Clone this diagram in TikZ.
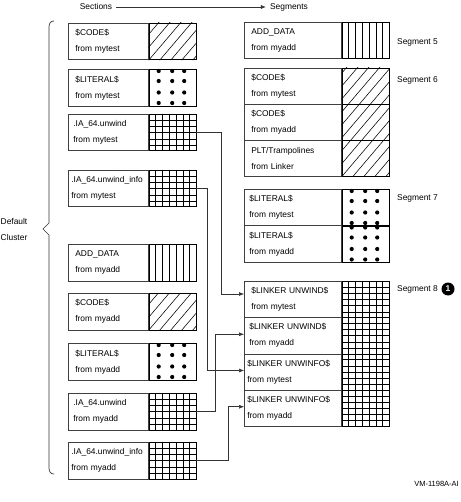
\documentclass[tikz,border=0pt]{standalone}
\usepackage{fontspec}
\setmainfont{Liberation Sans}
\usetikzlibrary{arrows.meta,calc}
\newcommand\PatHatch[2]{%
  \begin{scope}
    \clip (#1.north west) rectangle (#2.south east);
    \begin{scope}[shift={(#1.north west |- #2.south east)}]
      \foreach \i in {-14,...,5}{\draw[patline] (\i*11,0) -- ++(108,-127);}
    \end{scope}
  \end{scope}}
\newcommand\PatDots[1]{%
  \begin{scope}
    \clip (#1.north west) rectangle (#1.south east);
    \foreach \c in {10,23.5,35.5}{\foreach \r in {2,12,23.5,34}{%
      \fill[shift={(#1.north west)}] (\c,\r) circle[radius=2.1pt];}}
  \end{scope}}
\newcommand\PatVert[1]{%
  \foreach \k in {1,...,6}{\draw[patline] ($(#1.north west)!\k/7!(#1.north east)$) -- ($(#1.south west)!\k/7!(#1.south east)$);}}
\newcommand\PatGrid[1]{%
  \PatVert{#1}%
  \foreach \j in {1,...,5}{\draw[patline] ($(#1.north west)!\j/6!(#1.south west)$) -- ($(#1.north east)!\j/6!(#1.south east)$);}}
\begin{document}
\begin{tikzpicture}[x=1pt,y=-1pt,
  lbl/.style={font=\fontsize{8.4}{16}\selectfont},
  tb/.style={draw=black!75, line width=0.7pt, anchor=north west, inner ysep=0pt, align=left, font=\fontsize{8.4}{16}\selectfont},
  pb/.style={draw=black, line width=0.7pt, anchor=north west, minimum width=47pt, inner sep=0pt},
  db/.style={pb, line width=1.2pt},
  patline/.style={black, line width=0.55pt},
  conn/.style={draw=black!80, line width=0.6pt, -{Latex[length=5pt,width=4pt]}},
  segl/.style={lbl, anchor=west, inner sep=0pt},
]
\useasboundingbox (0,0) rectangle (460,502);

% header
\node[lbl, inner xsep=4pt] (sec) at (96,7) {Sections};
\node[lbl, inner xsep=4pt] (seg) at (289,7) {Segments};
\draw[conn] (sec.east) -- (seg.west);

% left column
\node[tb, minimum height=36.5pt, inner xsep=7pt, text width=66pt] (l1) at (68,23) {\$CODE\$\\from mytest};
\node[pb, minimum height=36.5pt] (p1) at (l1.north east) {};
\node[tb, minimum height=37pt, inner xsep=7pt, text width=66pt] (l2) at (68,69) {\$LITERAL\$\\from mytest};
\node[db, minimum height=37pt] (p2) at (l2.north east) {};
\node[tb, minimum height=36.5pt, inner xsep=5pt, text width=70pt] (l3) at (68,114) {.IA\_64.unwind\\from mytest};
\node[pb, minimum height=36.5pt] (p3) at (l3.north east) {};
\node[tb, minimum height=36.5pt, inner xsep=3pt, text width=74pt] (l4) at (68,170) {.IA\_64.unwind\_info\\from mytest};
\node[pb, minimum height=36.5pt] (p4) at (l4.north east) {};
\node[tb, minimum height=36.5pt, inner xsep=7pt, text width=66pt] (l5) at (68,244) {ADD\_DATA\\from myadd};
\node[pb, minimum height=36.5pt] (p5) at (l5.north east) {};
\node[tb, minimum height=36.5pt, inner xsep=7pt, text width=66pt] (l6) at (68,293) {\$CODE\$\\from myadd};
\node[pb, minimum height=36.5pt] (p6) at (l6.north east) {};
\node[tb, minimum height=37pt, inner xsep=7pt, text width=66pt] (l7) at (68,343) {\$LITERAL\$\\from myadd};
\node[db, minimum height=37pt] (p7) at (l7.north east) {};
\node[tb, minimum height=36.5pt, inner xsep=5pt, text width=70pt] (l8) at (68,393) {.IA\_64.unwind\\from myadd};
\node[pb, minimum height=36.5pt] (p8) at (l8.north east) {};
\node[tb, minimum height=36.5pt, inner xsep=3pt, text width=74pt] (l9) at (68,442) {.IA\_64.unwind\_info\\from myadd};
\node[pb, minimum height=36.5pt] (p9) at (l9.north east) {};

\PatHatch{p1}{p1}
\PatDots{p2}
\PatGrid{p3}
\PatGrid{p4}
\PatVert{p5}
\PatHatch{p6}{p6}
\PatDots{p7}
\PatGrid{p8}
\PatGrid{p9}

% right column
\node[tb, minimum height=36pt, inner xsep=7pt, text width=83pt] (r5) at (244,22) {ADD\_DATA\\from myadd};
\node[pb, minimum height=36pt] (q5) at (r5.north east) {};
\node[tb, minimum height=36pt, inner xsep=7pt, text width=83pt] (r6a) at (244,68) {\$CODE\$\\from mytest};
\node[pb, minimum height=36pt] (q6a) at (r6a.north east) {};
\node[tb, minimum height=36pt, inner xsep=7pt, text width=83pt] (r6b) at (244,104) {\$CODE\$\\from myadd};
\node[pb, minimum height=36pt] (q6b) at (r6b.north east) {};
\node[tb, minimum height=36pt, inner xsep=7pt, text width=83pt] (r6c) at (244,140) {PLT/Trampolines\\from Linker};
\node[pb, minimum height=36pt] (q6c) at (r6c.north east) {};
\node[tb, minimum height=36.5pt, inner xsep=5pt, text width=87pt] (r7a) at (244,189) {\$LITERAL\$\\from mytest};
\node[db, minimum height=36.5pt] (q7a) at (r7a.north east) {};
\node[tb, minimum height=36.5pt, inner xsep=5pt, text width=87pt] (r7b) at (244,225.5) {\$LITERAL\$\\from myadd};
\node[db, minimum height=36.5pt] (q7b) at (r7b.north east) {};
\node[tb, minimum height=36.25pt, inner xsep=7pt, text width=83pt] (r8a) at (244,281) {\$LINKER UNWIND\$\\from mytest};
\node[pb, minimum height=36.25pt] (q8a) at (r8a.north east) {};
\node[tb, minimum height=36.25pt, inner xsep=5pt, text width=87pt] (r8b) at (244,317.25) {\$LINKER UNWIND\$\\from myadd};
\node[pb, minimum height=36.25pt] (q8b) at (r8b.north east) {};
\node[tb, minimum height=36.25pt, inner xsep=3pt, text width=91pt] (r8c) at (244,353.5) {\$LINKER UNWINFO\$\\from mytest};
\node[pb, minimum height=36.25pt] (q8c) at (r8c.north east) {};
\node[tb, minimum height=36.25pt, inner xsep=3pt, text width=91pt] (r8d) at (244,389.75) {\$LINKER UNWINFO\$\\from myadd};
\node[pb, minimum height=36.25pt] (q8d) at (r8d.north east) {};

\PatVert{q5}
\PatHatch{q6a}{q6c}
\draw[black, line width=0.7pt] (q6a.south west) -- (q6a.south east) (q6b.south west) -- (q6b.south east);
\PatDots{q7a}
\PatDots{q7b}
\PatGrid{q8a}
\PatGrid{q8b}
\PatGrid{q8c}
\PatGrid{q8d}

% segment labels
\node[segl] (s5) at (397,42) {Segment 5};
\node[segl] (s6) at (397,80) {Segment 6};
\node[segl] (s7) at (397,198) {Segment 7};
\node[segl] (s8) at (397,289) {Segment 8};
\node[circle, fill=black, text=white, inner sep=0pt, minimum size=13pt, font=\bfseries\fontsize{8.4}{10}\selectfont] (c1) at (448,289) {1};

% connectors
\draw[conn] (p3.east) -- ++(25,0) |- ([yshift=-13pt]r8a.north west);
\draw[conn] (p4.east) -- ++(11,0) |- ([yshift=-17pt]r8c.north west);
\draw[conn] (p8.east) -- ++(19,0) |- ([yshift=-17pt]r8b.north west);
\draw[conn] (p9.east) -- ++(32,0) |- ([yshift=-17pt]r8d.north west);

% default cluster brace
\node[lbl, align=center, inner sep=0pt] (dc) at (14,229) {Default\\Cluster};
\draw[black!80, line width=0.7pt] (54,21) .. controls (50.5,21) and (49,23.5) .. (49,27) -- (49,223) -- (43,229) -- (49,235) -- (49,468) .. controls (49,471.5) and (50.5,474) .. (54,474);

\node[font=\fontsize{7.5}{9}\selectfont, anchor=east, inner sep=0pt] (vm) at (459,484) {VM-1198A-AI};
\end{tikzpicture}
\end{document}
